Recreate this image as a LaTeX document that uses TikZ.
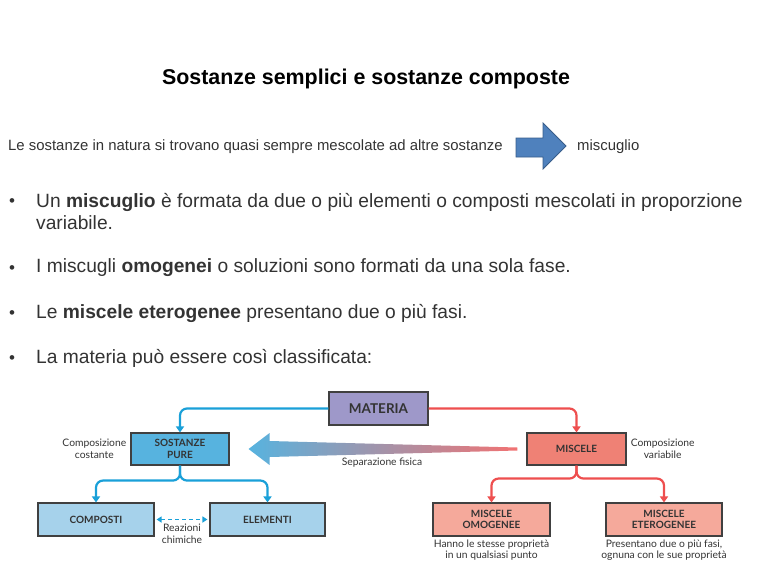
\documentclass[tikz,border=0pt]{standalone}
\usepackage{fontspec}
\setmainfont{Liberation Sans}
\newfontfamily\diagfont{Lato}
\usetikzlibrary{arrows.meta, positioning, calc}

\definecolor{matbg}{HTML}{9E98C9}
\definecolor{purebg}{HTML}{57B3DF}
\definecolor{lightbg}{HTML}{A6D2EB}
\definecolor{miscbg}{HTML}{EF8175}
\definecolor{salmonbg}{HTML}{F5A99B}
\definecolor{bluelink}{HTML}{1AA0D8}
\definecolor{redlink}{HTML}{EE4F4F}
\definecolor{blockfill}{HTML}{4F81BD}
\definecolor{blockborder}{HTML}{385D8A}
\definecolor{slidetext}{HTML}{333333}

\tikzset{
  box/.style={draw=black!75, line width=1.1pt, font=\diagfont\bfseries\fontsize{10}{11.5}\selectfont,
    text=black!80, align=center, inner sep=2pt},
  note/.style={font=\diagfont\fontsize{10.3}{11.5}\selectfont, text=black!80, align=center, inner sep=1pt},
  bullettext/.style={anchor=west, font=\fontsize{19.2}{22}\selectfont, text=slidetext, align=left, inner sep=0pt},
  bluelinks/.style={bluelink, line width=2.2pt, rounded corners=7pt, -{Triangle[length=6pt, width=8pt]}},
  redlinks/.style={redlink, line width=2.2pt, rounded corners=7pt, -{Triangle[length=6pt, width=8pt]}},
}

\begin{document}
\begin{tikzpicture}[x=1pt, y=-1pt]
  \useasboundingbox (0,0) rectangle (768,576);

  % heading and first line
  \node[font=\bfseries\fontsize{21.4}{24}\selectfont] (title) at (366,79) {Sostanze semplici e sostanze composte};
  \node[anchor=west, font=\fontsize{14.9}{17}\selectfont, text=slidetext, inner sep=0pt] (natura) at (8,147)
    {Le sostanze in natura si trovano quasi sempre mescolate ad altre sostanze};
  \draw[fill=blockfill, draw=blockborder, line width=0.8pt]
    (516,138) -- (543,138) -- (543,123) -- (566,146) -- (543,169) -- (543,157) -- (516,157) -- cycle;
  \node[anchor=west, font=\fontsize{14.9}{17}\selectfont, text=slidetext, inner sep=0pt] (misc) at (577,147) {miscuglio};

  % bullets
  \foreach \y in {203,270,315,360}
    \node[text=slidetext, font=\fontsize{17}{20}\selectfont, inner sep=0pt] at (12,\y) {•};
  \node[bullettext] (b1) at (36,212)
    {Un \textbf{miscuglio} è formata da due o più elementi o composti mescolati in proporzione\\variabile.};
  \node[bullettext] (b2) at (36,268) {I miscugli \textbf{omogenei} o soluzioni sono formati da una sola fase.};
  \node[bullettext] (b3) at (36,313) {Le \textbf{miscele eterogenee} presentano due o più fasi.};
  \node[bullettext] (b4) at (36,358) {La materia può essere così classificata:};

  % diagram
  \node[box, fill=matbg, minimum width=99pt, minimum height=33pt, font=\diagfont\bfseries\fontsize{13.5}{15}\selectfont]
    (materia) at (378.5,408.5) {MATERIA};
  \node[box, fill=purebg, minimum width=98pt, minimum height=32pt] (pure) at (180,449) {SOSTANZE\\PURE};
  \node[box, fill=miscbg, minimum width=99pt, minimum height=32pt] (miscele) at (576.5,449) {MISCELE};
  \node[box, fill=lightbg, minimum width=116pt, minimum height=33pt] (composti) at (96,519.5) {COMPOSTI};
  \node[box, fill=lightbg, minimum width=115pt, minimum height=33pt] (elementi) at (267.5,519.5) {ELEMENTI};
  \node[box, fill=salmonbg, minimum width=117pt, minimum height=33pt] (omogenee) at (491.5,519.5) {MISCELE\\OMOGENEE};
  \node[box, fill=salmonbg, minimum width=116pt, minimum height=33pt] (eterogenee) at (664,519.5) {MISCELE\\ETEROGENEE};

  \node[note, left=3pt of pure] (costante) {Composizione\\costante};
  \node[note, right=3pt of miscele] (variabile) {Composizione\\variabile};
  \node[note, below=2pt of omogenee] (stesse) {Hanno le stesse proprietà\\in un qualsiasi punto};
  \node[note, below=2pt of eterogenee] (fasi) {Presentano due o più fasi,\\ognuna con le sue proprietà};

  \draw[bluelinks] (materia.west) -| (pure.north);
  \draw[redlinks] (materia.east) -| (miscele.north);
  \draw[bluelinks] (pure.south) -- ([yshift=-15pt]pure.south) -| (composti.north);
  \draw[bluelinks] (pure.south) -- ([yshift=-15pt]pure.south) -| (elementi.north);
  \draw[redlinks] (miscele.south) -- ([yshift=-13pt]miscele.south) -| (omogenee.north);
  \draw[redlinks] (miscele.south) -- ([yshift=-13pt]miscele.south) -| (eterogenee.north);
  \draw[bluelink, line width=1.5pt, dash pattern=on 4pt off 3pt, {Triangle[length=5pt, width=6pt]}-{Triangle[length=5pt, width=6pt]}]
    ([xshift=2pt]composti.east) -- ([xshift=-2pt]elementi.west)
    node[note, midway, below=3pt] (reazioni) {Reazioni\\chimiche};

  % separazione fisica
  \coordinate (septip) at ([xshift=19pt]pure.east);
  \coordinate (septail) at ([xshift=-9pt]miscele.west);
  \shade[left color=purebg, right color=redlink!80]
    (septip) -- ++(21,-16) -- ++(0,8) -- ($(septail)+(0,-1.5)$) -- ($(septail)+(0,1.5)$)
    -- ($(septip)+(21,8)$) -- ++(0,8) -- cycle;
  \node[note] (separazione) at (382,463) {Separazione fisica};
\end{tikzpicture}
\end{document}
